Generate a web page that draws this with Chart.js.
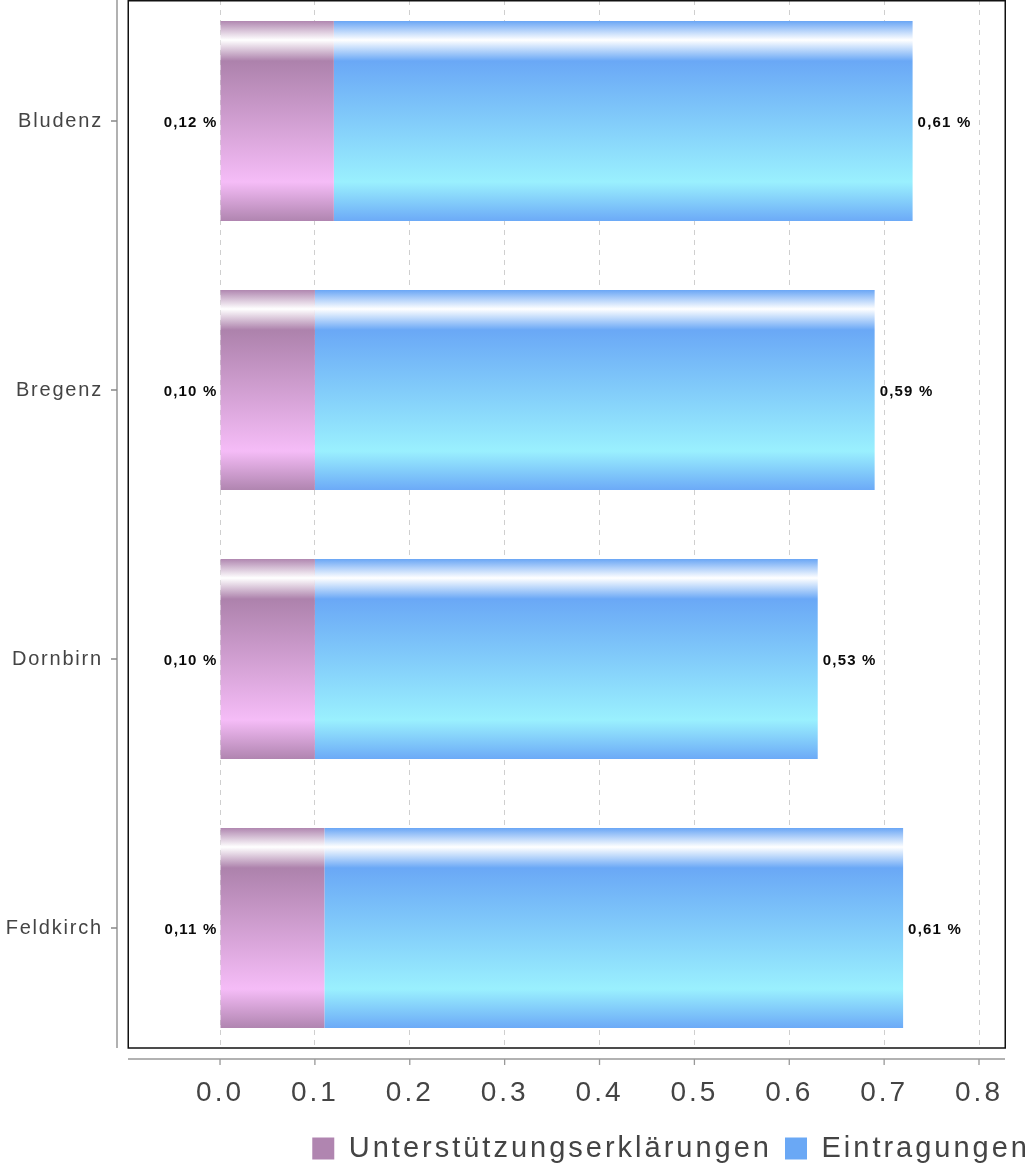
<!DOCTYPE html>
<html><head><meta charset="utf-8">
<script src="https://cdn.jsdelivr.net/npm/chart.js@4.4.0/dist/chart.umd.min.js"></script>
<style>html,body{margin:0;padding:0;background:#fff;} canvas{display:block;}</style>
</head><body>
<canvas id="c" width="1033" height="1167"></canvas>
<script>
// ---- data ----
const categories = ['Bludenz', 'Bregenz', 'Dornbirn', 'Feldkirch'];
const seriesNames = ['Unterstützungserklärungen', 'Eintragungen'];
const unterstuetzung = [0.12, 0.10, 0.10, 0.11];
const eintragungen = [0.61, 0.59, 0.53, 0.61];
const xTickValues = [0, 0.1, 0.2, 0.3, 0.4, 0.5, 0.6, 0.7, 0.8];

// ---- styling ----
const FONT = "'Liberation Sans', Arial, Helvetica, sans-serif";
const BAR_FRACTION = 0.7435;
const palettes = [
  {solid: '#b085b0', top: '#b087b0', mid: '#ad82ac', light: '#f5bcf7', bottom: '#b085b0'},
  {solid: '#6aa8f5', top: '#6aa6f5', mid: '#6aa8f6', light: '#9af0fe', bottom: '#6caaf7'}
];

function barGradient(pal) {
  return function (context) {
    const chart = context.chart;
    const i = context.dataIndex;
    if (!chart.chartArea || typeof i !== 'number') return pal.solid;
    const ys = chart.scales.y;
    const c = ys.getPixelForValue(i);
    const step = Math.abs(ys.getPixelForValue(1) - ys.getPixelForValue(0));
    const h = step * BAR_FRACTION;
    if (!isFinite(c) || !isFinite(h)) return pal.solid;
    const g = chart.ctx.createLinearGradient(0, c - h / 2, 0, c + h / 2);
    g.addColorStop(0, pal.top);
    g.addColorStop(0.095, '#ffffff');
    g.addColorStop(0.2, pal.mid);
    g.addColorStop(0.805, pal.light);
    g.addColorStop(1, pal.bottom);
    return g;
  };
}

function withSpacing(obj, method, sp) {
  if (!obj || obj['_ls_' + method]) return;
  const orig = obj[method];
  obj[method] = function (...args) {
    const c = this.ctx;
    const prev = c.letterSpacing;
    c.letterSpacing = sp;
    try { return orig.apply(this, args); } finally { c.letterSpacing = prev || '0px'; }
  };
  obj['_ls_' + method] = true;
}

const spacingPlugin = {
  id: 'spacing',
  beforeLayout(chart) {
    if (chart.legend) { withSpacing(chart.legend, 'fit', '3px'); withSpacing(chart.legend, 'draw', '3px'); }
  },
  afterLayout(chart) {
    withSpacing(chart.scales.x, 'drawLabels', '3px');
    withSpacing(chart.scales.y, 'drawLabels', '1.8px');
  }
};

const valueLabels = {
  id: 'valueLabels',
  afterDatasetsDraw(chart) {
    const ctx = chart.ctx;
    ctx.save();
    ctx.font = 'bold 15px ' + FONT;
    ctx.letterSpacing = '1.2px';
    ctx.fillStyle = '#0a0a0a';
    ctx.textBaseline = 'middle';
    chart.data.datasets.forEach((ds, di) => {
      const meta = chart.getDatasetMeta(di);
      meta.data.forEach((bar, i) => {
        const txt = ds.data[i].x.toFixed(2).replace('.', ',') + ' %';
        if (di === 0) { ctx.textAlign = 'right'; ctx.fillText(txt, bar.base - 3, bar.y + 2); }
        else { ctx.textAlign = 'left'; ctx.fillText(txt, bar.x + 5, bar.y + 2); }
      });
    });
    ctx.restore();
  }
};

const framePlugin = {
  id: 'frame',
  afterDraw(chart) {
    const {ctx, chartArea: a, scales: {x, y}} = chart;
    ctx.save();
    ctx.strokeStyle = '#111';
    ctx.lineWidth = 1.5;
    ctx.strokeRect(a.left + 0.25, a.top + 0.75, a.right - a.left, a.bottom - a.top - 0.75);
    ctx.lineWidth = 1.3;
    const axY = a.bottom + 11;
    ctx.strokeStyle = '#999';
    ctx.beginPath();
    ctx.moveTo(a.left, axY); ctx.lineTo(a.right, axY);
    x.ticks.forEach(t => { const px = x.getPixelForValue(t.value); ctx.moveTo(px, axY); ctx.lineTo(px, axY + 6); });
    ctx.stroke();
    const axX = a.left - 11;
    ctx.strokeStyle = '#888';
    ctx.beginPath();
    ctx.moveTo(axX, a.top); ctx.lineTo(axX, a.bottom);
    y.ticks.forEach(t => { const py = y.getPixelForValue(t.value); ctx.moveTo(axX - 6, py); ctx.lineTo(axX, py); });
    ctx.stroke();
    ctx.restore();
  }
};

function noPad(s) { s.paddingTop = 0; s.paddingBottom = 0; s.paddingLeft = 0; s.paddingRight = 0; }

new Chart(document.getElementById('c'), {
  type: 'bar',
  data: {
    datasets: [
      {label: seriesNames[0], data: categories.map((c, i) => ({x: unterstuetzung[i], y: i})),
       backgroundColor: barGradient(palettes[0]), borderWidth: 0, xAxisID: 'x', yAxisID: 'y',
       categoryPercentage: 1, barPercentage: BAR_FRACTION},
      {label: seriesNames[1], data: categories.map((c, i) => ({x: eintragungen[i], y: i})),
       backgroundColor: barGradient(palettes[1]), borderWidth: 0, xAxisID: 'x', yAxisID: 'y',
       categoryPercentage: 1, barPercentage: BAR_FRACTION}
    ]
  },
  options: {
    indexAxis: 'y',
    responsive: false,
    animation: false,
    devicePixelRatio: 1,
    layout: {padding: {left: 0, right: -10, top: 0, bottom: -6}},
    scales: {
      x: {
        type: 'linear', stacked: true, bounds: 'data', offset: false, min: -0.097, max: 0.8274,
        afterBuildTicks: s => { s.ticks = xTickValues.map(v => ({value: v})); },
        afterFit: s => { s.height = 73; noPad(s); },
        grid: {color: '#cfcfcf', lineWidth: 1, drawTicks: false},
        border: {display: false, dash: [5, 5]},
        ticks: {padding: 28, color: '#444', font: {family: FONT, size: 28},
                callback: v => Number(v).toFixed(1), autoSkip: false, maxRotation: 0}
      },
      y: {
        type: 'linear', reverse: true, stacked: true, bounds: 'data', offset: false, min: -0.4498, max: 3.4461,
        afterBuildTicks: s => { s.ticks = categories.map((c, i) => ({value: i})); },
        afterFit: s => { s.width = 128; noPad(s); },
        grid: {display: false, drawTicks: false},
        border: {display: false},
        ticks: {padding: 25, color: '#444', font: {family: FONT, size: 20},
                callback: v => categories[v] ?? '', autoSkip: false}
      },
      r: {
        type: 'linear', position: 'right', display: true, offset: false,
        grid: {display: false, drawTicks: false}, border: {display: false},
        ticks: {display: false},
        afterFit: s => { s.width = 38; noPad(s); }
      }
    },
    plugins: {
      legend: {
        position: 'bottom', align: 'end',
        labels: {
          boxWidth: 22, boxHeight: 22, padding: 13, color: '#444',
          font: {family: FONT, size: 29},
          generateLabels(chart) {
            const items = Chart.defaults.plugins.legend.labels.generateLabels(chart);
            items.forEach((it, i) => { it.fillStyle = palettes[i].solid; it.strokeStyle = palettes[i].solid; it.lineWidth = 0; });
            return items;
          }
        }
      },
      tooltip: {enabled: false}
    }
  },
  plugins: [spacingPlugin, valueLabels, framePlugin]
});
</script>
</body></html>
